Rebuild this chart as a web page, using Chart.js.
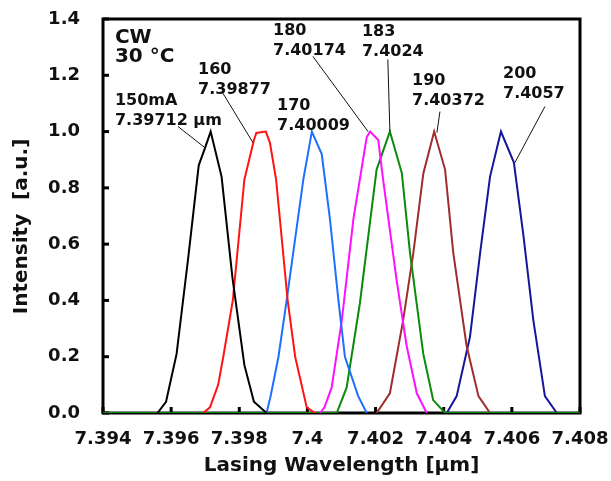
<!DOCTYPE html>
<html><head><meta charset="utf-8">
<script src="https://cdn.jsdelivr.net/npm/chart.js@4.4.1/dist/chart.umd.min.js"></script>
<style>html,body{margin:0;padding:0;background:#fff}</style>
</head><body>
<canvas id="c" width="611" height="481" style="display:block;width:611px;height:481px"></canvas>
<script>
// ---- axis ticks ----
const xTicks = [7.394, 7.396, 7.398, 7.400, 7.402, 7.404, 7.406, 7.408];
const yTicks = [0.0, 0.2, 0.4, 0.6, 0.8, 1.0, 1.2, 1.4];

// ---- series (wavelength in µm, normalised intensity) ----
const seriesNames = ['150 mA', '160 mA', '170 mA', '180 mA', '183 mA', '190 mA', '200 mA'];
const wl150  = [7.39560, 7.39585, 7.39616, 7.39650, 7.39681, 7.39699, 7.39716, 7.39748, 7.39780, 7.39815, 7.39843, 7.39880];
const int150 = [0, 0.04, 0.21, 0.55, 0.88, 0.94, 1.00, 0.84, 0.48, 0.17, 0.04, 0];
const wl160  = [7.39694, 7.39714, 7.39738, 7.39753, 7.39781, 7.39815, 7.39843, 7.39850, 7.39878, 7.39890, 7.39908, 7.39942, 7.39964, 7.39998, 7.40022];
const int160 = [0, 0.02, 0.10, 0.20, 0.40, 0.83, 0.97, 0.995, 1.00, 0.96, 0.83, 0.40, 0.20, 0.02, 0];
const wl170  = [7.39880, 7.39892, 7.39915, 7.39939, 7.39988, 7.40013, 7.40042, 7.40066, 7.40091, 7.40110, 7.40149, 7.40174];
const int170 = [0, 0.06, 0.20, 0.40, 0.83, 1.00, 0.92, 0.69, 0.40, 0.20, 0.06, 0];
const wl180  = [7.40037, 7.40050, 7.40071, 7.40101, 7.40135, 7.40174, 7.40184, 7.40208, 7.40222, 7.40262, 7.40291, 7.40321, 7.40350];
const int180 = [0, 0.02, 0.09, 0.33, 0.69, 0.98, 1.00, 0.97, 0.83, 0.47, 0.24, 0.07, 0];
const wl183  = [7.39400, 7.40086, 7.40115, 7.40154, 7.40203, 7.40242, 7.40277, 7.40301, 7.40340, 7.40369, 7.40404, 7.40800];
const int183 = [0, 0, 0.09, 0.39, 0.865, 1.00, 0.853, 0.57, 0.21, 0.046, 0, 0];
const wl190  = [7.40203, 7.40242, 7.40281, 7.40311, 7.40340, 7.40372, 7.40404, 7.40428, 7.40467, 7.40502, 7.40536];
const int190 = [0, 0.07, 0.33, 0.57, 0.85, 1.00, 0.865, 0.57, 0.24, 0.06, 0];
const wl200  = [7.40409, 7.40438, 7.40477, 7.40507, 7.40536, 7.40568, 7.40606, 7.40634, 7.40663, 7.40697, 7.40732];
const int200 = [0, 0.06, 0.27, 0.57, 0.84, 1.00, 0.89, 0.63, 0.33, 0.06, 0];

// ---- annotations ----
const noteLines = [['CW', '30 °C'], ['150mA', '7.39712 µm'], ['160', '7.39877'], ['170', '7.40009'],
                   ['180', '7.40174'], ['183', '7.4024'], ['190', '7.40372'], ['200', '7.4057']];
const noteAnchor = [[7.39435, 1.315], [7.39435, 1.096], [7.39679, 1.206], [7.39911, 1.078],
                    [7.39899, 1.342], [7.40160, 1.338], [7.40307, 1.167], [7.40574, 1.189]];
const leaderFrom = [[7.39620, 1.018], [7.39749, 1.142], [7.40016, 1.267], [7.40236, 1.256], [7.40389, 1.071], [7.40697, 1.089]];
const leaderTo   = [[7.39699, 0.943], [7.39840, 0.961], [7.40178, 1.000], [7.40242, 1.000], [7.40380, 0.996], [7.40609, 0.890]];

const colors = ['#000000', '#ff1414', '#1f6fff', '#ff10ff', '#0b8a0b', '#a02d2d', '#16169a'];
const wls = [wl150, wl160, wl170, wl180, wl183, wl190, wl200];
const ints = [int150, int160, int170, int180, int183, int190, int200];

const datasets = seriesNames.map((n, i) => ({
  label: n,
  data: wls[i].map((w, k) => ({x: w, y: ints[i][k]})),
  borderColor: colors[i], backgroundColor: colors[i],
  borderWidth: 2, pointRadius: 0, tension: 0, fill: false
}));

const FONT = 'DejaVu Sans, Verdana, sans-serif';

const overlay = {
  id: 'overlay',
  beforeDatasetsDraw(chart) {
    const {ctx, chartArea: a, scales: {x, y}} = chart;
    ctx.save();
    ctx.strokeStyle = '#000'; ctx.lineWidth = 3;
    ctx.strokeRect(a.left, a.top, a.right - a.left, a.bottom - a.top);
    x.ticks.forEach(t => { const p = x.getPixelForValue(t.value); ctx.beginPath(); ctx.moveTo(p, a.bottom); ctx.lineTo(p, a.bottom - 6); ctx.stroke(); });
    y.ticks.forEach(t => { const p = y.getPixelForValue(t.value); ctx.beginPath(); ctx.moveTo(a.left, p); ctx.lineTo(a.left + 6, p); ctx.stroke(); });
    ctx.restore();
  },
  afterDatasetsDraw(chart) {
    const {ctx, scales: {x, y}} = chart;
    ctx.save();
    ctx.strokeStyle = '#111'; ctx.lineWidth = 1;
    leaderFrom.forEach((f, i) => {
      const t = leaderTo[i];
      ctx.beginPath();
      ctx.moveTo(x.getPixelForValue(f[0]), y.getPixelForValue(f[1]));
      ctx.lineTo(x.getPixelForValue(t[0]), y.getPixelForValue(t[1]));
      ctx.stroke();
    });
    ctx.fillStyle = '#111'; ctx.textBaseline = 'alphabetic'; ctx.textAlign = 'left';
    noteLines.forEach((lines, i) => {
      const px = x.getPixelForValue(noteAnchor[i][0]);
      const py = y.getPixelForValue(noteAnchor[i][1]);
      const big = i === 0;
      ctx.font = 'bold ' + (big ? 20 : 16) + 'px ' + FONT;
      lines.forEach((s, k) => ctx.fillText(s, px, py + k * (big ? 19 : 20)));
    });
    ctx.restore();
  }
};

new Chart(document.getElementById('c'), {
  type: 'line',
  data: {datasets},
  plugins: [overlay],
  options: {
    responsive: false, animation: false,
    layout: {padding: {top: 19, right: 31, left: 0, bottom: 0}},
    plugins: {legend: {display: false}, tooltip: {enabled: false}},
    scales: {
      x: {
        type: 'linear', min: xTicks[0], max: xTicks[xTicks.length - 1],
        afterBuildTicks: s => { s.ticks = xTicks.map(v => ({value: v})); },
        afterFit: s => { s.height = 68; s.paddingLeft = 0; s.paddingRight = 0; },
        grid: {display: false, drawTicks: false},
        border: {display: false},
        ticks: {padding: 16, color: '#111', font: {family: FONT, size: 18, weight: 'bold'},
                callback: v => String(parseFloat(v.toFixed(3))), maxRotation: 0, autoSkip: false},
        title: {display: true, text: 'Lasing Wavelength [µm]', color: '#111',
                font: {family: FONT, size: 20, weight: 'bold'}, padding: {top: 0, bottom: 3}}
      },
      y: {
        type: 'linear', min: yTicks[0], max: yTicks[yTicks.length - 1],
        afterBuildTicks: s => { s.ticks = yTicks.map(v => ({value: v})); },
        afterFit: s => { s.width = 103; s.paddingTop = 0; s.paddingBottom = 0; },
        grid: {display: false, drawTicks: false},
        border: {display: false},
        ticks: {padding: 23, color: '#111', font: {family: FONT, size: 18, weight: 'bold'},
                callback: v => v.toFixed(1)},
        title: {display: true, text: 'Intensity  [a.u.]   ', color: '#111',
                font: {family: FONT, size: 20, weight: 'bold'}, padding: {top: 10, bottom: 0}}
      }
    }
  }
});
</script>
</body></html>
